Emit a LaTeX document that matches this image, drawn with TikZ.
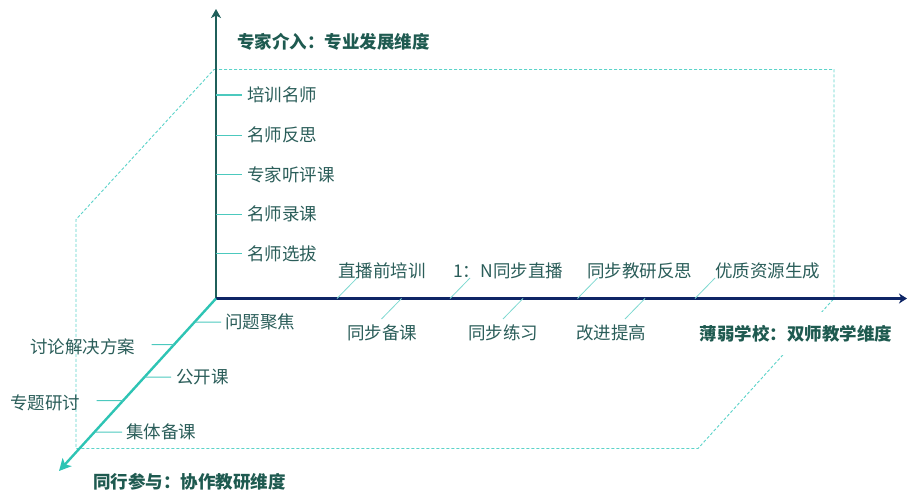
\documentclass[tikz,border=0pt]{standalone}
\usepackage{fontspec}
\setmainfont{Noto Sans CJK SC}
\usetikzlibrary{arrows.meta}
\definecolor{txt}{HTML}{2A5D59}
\definecolor{ttl}{HTML}{1E5A50}
\definecolor{vax}{HTML}{1F5F5A}
\definecolor{hax}{HTML}{0E2566}
\definecolor{dax}{HTML}{2EC4B4}
\definecolor{dsh}{HTML}{5CD3C9}
\definecolor{tck}{HTML}{4CC9BE}
\definecolor{htck}{HTML}{7DD8D0}
\tikzset{
  lab/.style={font=\fontsize{17.5}{20}\selectfont, text=txt, inner sep=0pt},
  ttlab/.style={font=\fontsize{17.5}{20}\selectfont\bfseries, text=ttl, inner sep=0pt},
  tickline/.style={draw=tck, line width=1pt},
  htickline/.style={draw=htck, line width=0.8pt},
  boxline/.style={draw=dsh, line width=0.9pt, dash pattern=on 3pt off 2pt},
}
\begin{document}
\begin{tikzpicture}[x=1pt,y=-1pt]
\useasboundingbox (0,0) rectangle (916,503);
% dashed box
\draw[boxline] (214,69.5) -- (834,69.5) -- (834,298.5) -- (698,448.5) -- (76,448.5) -- (76,219.5) -- cycle;
% axes
\coordinate (O) at (216,298.5);
\coordinate (Vt) at (216,9);
\coordinate (Ht) at (907,298.5);
\coordinate (Dt) at (59,471);
\draw[draw=vax, line width=2pt, -{Stealth[length=9pt,width=10pt,inset=2.5pt]}] (O) -- (Vt);
\draw[draw=hax, line width=2.4pt, -{Stealth[length=8pt,width=10pt,inset=2.5pt]}] (O) -- (Ht);
\draw[draw=dax, line width=2.4pt, -{Stealth[length=12pt,width=12pt,inset=3pt]}] (O) -- (Dt);
% titles
\node[ttlab, anchor=west] (tv) at (237,42) {专家介入：专业发展维度};
\node[ttlab, anchor=west] (td) at (93,482) {同行参与：协作教研维度};
\node[ttlab, fill=white, inner xsep=2pt, inner ysep=13pt] (th) at (796,333.5) {薄弱学校：双师教学维度};
% vertical axis labels
\foreach \n/\y/\t in {v1/95/培训名师, v2/135/名师反思, v3/174.5/专家听评课, v4/214/名师录课, v5/253.5/名师选拔}{
  \node[lab, anchor=west] (\n) at (247,\y) {\t};
  \draw[tickline] (O |- \n.west) -- ([xshift=-5pt]\n.west);
}
% horizontal axis labels above
\node[lab, anchor=west] (a1) at (338,270.5) {直播前培训};
\node[lab, anchor=west] (a2) at (453,270.5) {1：N同步直播};
\node[lab, anchor=west] (a3) at (587,270.5) {同步教研反思};
\node[lab, anchor=west] (a4) at (715,270.5) {优质资源生成};
\draw[htickline] (337,298.5) -- (357,278);
\draw[htickline] (450,298.5) -- (470,278);
\draw[htickline] (577.5,298.5) -- (597.5,278);
\draw[htickline] (695,298.5) -- (715,278);
% horizontal axis labels below
\node[lab, anchor=west] (b1) at (347,333) {同步备课};
\node[lab, anchor=west] (b2) at (468,333) {同步练习};
\node[lab, anchor=west] (b3) at (576,333) {改进提高};
\draw[htickline] (401.5,298.5) -- (381.5,319);
\draw[htickline] (523,298.5) -- (503,319);
\draw[htickline] (645,298.5) -- (625,319);
% diagonal axis labels
\node[lab, anchor=west] (d1) at (225,322) {问题聚焦};
\node[lab, anchor=east] (d2) at (135.5,346.5) {讨论解决方案};
\node[lab, anchor=west] (d3) at (176,377) {公开课};
\node[lab, anchor=east] (d4) at (80.5,403) {专题研讨};
\node[lab, anchor=west] (d5) at (126,432) {集体备课};
\draw[tickline] (intersection of O--Dt and d1.west--d1.east) -- ([xshift=-4pt]d1.west);
\draw[tickline] ([xshift=16pt]d2.east |- 0,344.5) -- (intersection of O--Dt and 0,344.5--10,344.5);
\draw[tickline] (intersection of O--Dt and d3.west--d3.east) -- ([xshift=-5pt]d3.west);
\draw[tickline] ([xshift=16pt]d4.east |- 0,400.5) -- (intersection of O--Dt and 0,400.5--10,400.5);
\draw[tickline] (intersection of O--Dt and d5.west--d5.east) -- ([xshift=-4pt]d5.west);
\end{tikzpicture}
\end{document}
